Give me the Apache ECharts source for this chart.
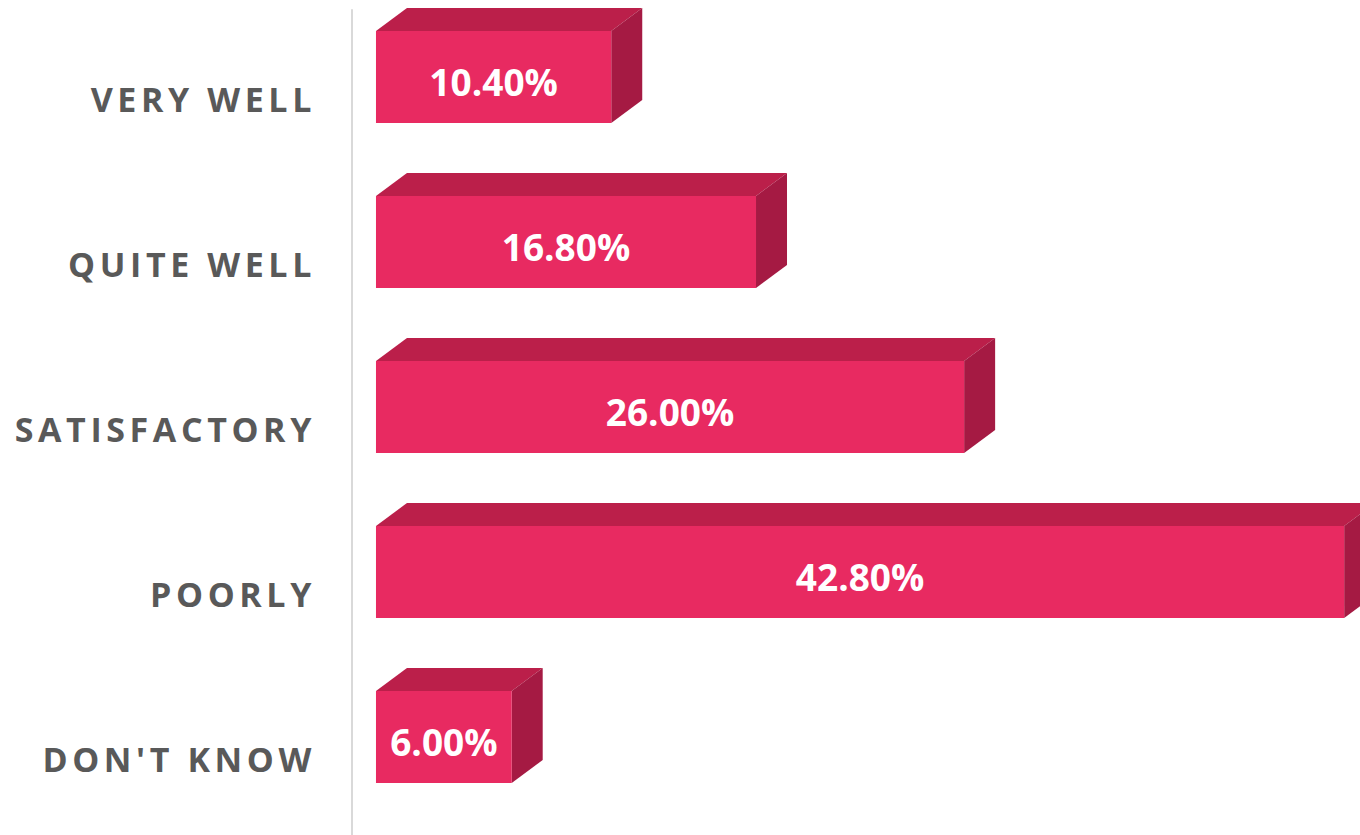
<!DOCTYPE html>
<html>
<head>
<meta charset="utf-8">
<script src="https://cdn.jsdelivr.net/npm/echarts@6/dist/echarts.min.js"></script>
<style>
  html, body { margin: 0; padding: 0; background: #fff; }
  #chart { width: 1360px; height: 835px; }
  /* category labels are spaced out in the original */
  #chart text[fill="#595959"] { letter-spacing: 4.6px; }
</style>
</head>
<body>
<div id="chart"></div>
<script>
const categories = ['VERY WELL', 'QUITE WELL', 'SATISFACTORY', 'POORLY', "DON'T KNOW"]
const values = [10.4, 16.8, 26.0, 42.8, 6.0]

const FRONT = '#e82a61'
const TOP = '#bb1f4a'
const SIDE = '#a51a43'
const DX = 31
const DY = 23
const BAR_H = 92

const chart = echarts.init(document.getElementById('chart'), null, { renderer: 'svg' })

function renderItem(params, api) {
  const cat = api.value(0)
  const val = api.value(1)
  const start = api.coord([0, cat])
  const end = api.coord([val, cat])
  const x0 = start[0]
  const x1 = end[0]
  const yc = start[1] - 15.5
  const y0 = yc - BAR_H / 2
  const y1 = yc + BAR_H / 2
  return {
    type: 'group',
    children: [
      {
        type: 'polygon',
        shape: { points: [[x0, y0], [x0 + DX, y0 - DY], [x1 + DX, y0 - DY], [x1, y0]] },
        style: { fill: TOP }
      },
      {
        type: 'polygon',
        shape: { points: [[x1, y0], [x1 + DX, y0 - DY], [x1 + DX, y1 - DY], [x1, y1]] },
        style: { fill: SIDE }
      },
      {
        type: 'rect',
        shape: { x: x0, y: y0, width: x1 - x0, height: BAR_H },
        style: { fill: FRONT }
      },
      {
        type: 'text',
        x: (x0 + x1) / 2,
        y: yc + 4,
        style: {
          text: val.toFixed(2) + '%',
          fill: '#fff',
          font: 'bold 37px "Open Sans"',
          align: 'center',
          verticalAlign: 'middle'
        }
      }
    ]
  }
}

chart.setOption({
  animation: false,
  grid: { left: 352, right: 0, top: 10, bottom: 0 },
  xAxis: {
    type: 'value',
    min: -1.06,
    max: 43.5,
    show: false
  },
  yAxis: {
    type: 'category',
    data: categories,
    inverse: true,
    axisLine: { show: true, onZero: false, lineStyle: { color: '#d9d9d9', width: 2 } },
    axisTick: { show: false },
    axisLabel: {
      margin: 36,
      color: '#595959',
      fontFamily: 'Open Sans',
      fontWeight: 'bold',
      fontSize: 34,
      verticalAlign: 'top',
      lineHeight: 34,
      padding: [-11, 0, 0, 0]
    }
  },
  series: [{
    type: 'custom',
    renderItem,
    clip: false,
    data: values.map((v, i) => [i, v])
  }]
})

window.addEventListener('resize', () => chart.resize())
</script>
</body>
</html>
